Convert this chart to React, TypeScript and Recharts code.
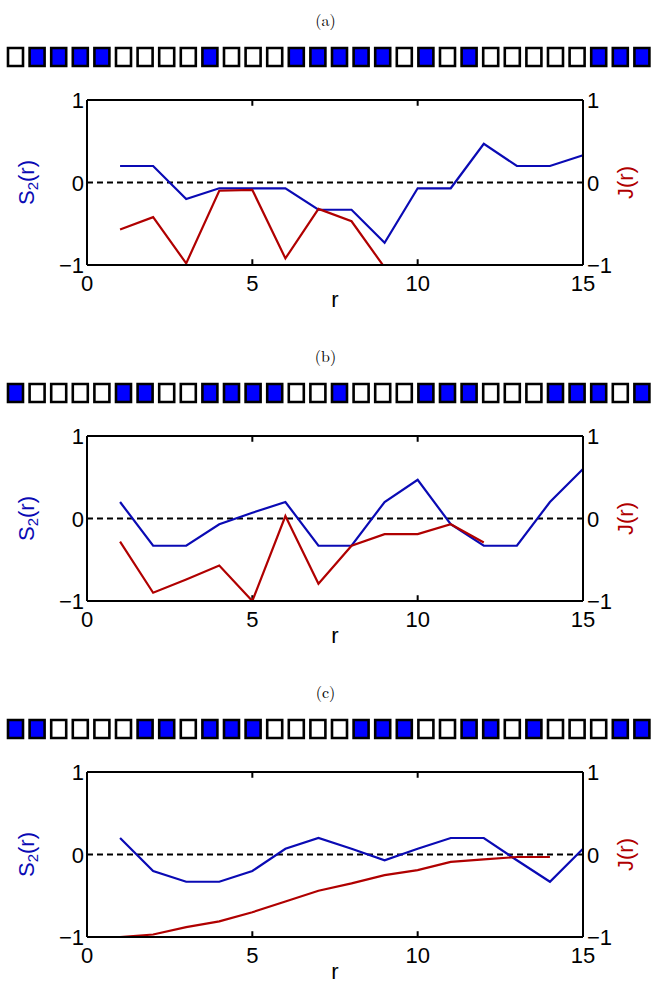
import React from "react";
import { LineChart, Line, XAxis, YAxis, ReferenceLine, Label, BarChart, Bar, Cell } from "recharts";

// distance r
const R = [1, 2, 3, 4, 5, 6, 7, 8, 9, 10, 11, 12, 13, 14, 15];

// S2(r) (blue, left axis) and J(r) (red, right axis) per panel
const S2_A = [0.2, 0.2, -0.2, -0.07, -0.07, -0.07, -0.33, -0.33, -0.73, -0.07, -0.07, 0.47, 0.2, 0.2, 0.33];
const J_A = [-0.57, -0.42, -0.98, -0.1, -0.09, -0.92, -0.32, -0.47, -1.03];
const S2_B = [0.2, -0.33, -0.33, -0.07, 0.07, 0.2, -0.33, -0.33, 0.2, 0.47, -0.07, -0.33, -0.33, 0.2, 0.6];
const J_B = [-0.28, -0.9, -0.74, -0.57, -1.0, 0.03, -0.79, -0.33, -0.19, -0.19, -0.07, -0.29];
const S2_C = [0.2, -0.2, -0.33, -0.33, -0.2, 0.07, 0.2, 0.07, -0.07, 0.07, 0.2, 0.2, -0.07, -0.33, 0.07];
const J_C = [-1.0, -0.97, -0.88, -0.81, -0.7, -0.57, -0.44, -0.35, -0.25, -0.19, -0.09, -0.06, -0.03, -0.03];

// occupied (1 = blue) / empty sites of each chain
const CHAIN_A = [0, 1, 1, 1, 1, 0, 0, 0, 0, 1, 0, 0, 0, 1, 1, 1, 1, 1, 0, 1, 0, 1, 0, 0, 0, 0, 0, 1, 1, 1];
const CHAIN_B = [1, 0, 0, 0, 0, 1, 1, 0, 0, 1, 1, 1, 1, 0, 0, 1, 0, 0, 0, 1, 1, 1, 0, 0, 0, 1, 1, 1, 0, 1];
const CHAIN_C = [1, 1, 0, 0, 0, 0, 1, 1, 0, 1, 1, 1, 0, 0, 0, 0, 1, 1, 1, 0, 0, 1, 1, 0, 1, 0, 0, 0, 1, 1];

const X_TICKS = [0, 5, 10, 15];
const INNER_TICKS = [5, 10];
const Y_TICKS = [-1, 0, 1];

const BLUE = "#0a0ab4";
const RED = "#b00000";
const SANS = "'Liberation Sans', Arial, Helvetica, sans-serif";

const T = 16; // plot top inside chart
const PH = 165; // plot height

function fmt(v: number) {
  return v < 0 ? "\u2212" + Math.abs(v) : String(v);
}

function Chain({ sites }: { sites: number[] }) {
  const data = sites.map((s, i) => ({ i, v: 1, s }));
  return (
    <BarChart width={651} height={24} data={data} margin={{ top: 3, right: -2, bottom: 3, left: 5 }}>
      <XAxis dataKey="i" hide />
      <YAxis domain={[0, 1]} hide />
      <Bar dataKey="v" barSize={15} isAnimationActive={false}>
        {data.map((d) => (
          <Cell key={d.i} fill={d.s ? "#0000ff" : "#ffffff"} stroke="#000" strokeWidth={2.6} />
        ))}
      </Bar>
    </BarChart>
  );
}

function Panel({ s2, j }: { s2: number[]; j: number[] }) {
  const data = R.map((r, i) => ({ r, s2: s2[i], j: i < j.length ? j[i] : null }));
  const bottom = T + PH;
  return (
    <LineChart width={651} height={230} data={data} margin={{ top: T, right: 38, bottom: 0, left: 57 }}>
      <XAxis
        xAxisId="b"
        dataKey="r"
        type="number"
        domain={[0, 15]}
        ticks={X_TICKS}
        height={49}
        tickSize={0}
        tickLine={false}
        axisLine={{ stroke: "#000", strokeWidth: 2 }}
        tick={(p: any) => (
          <text x={p.x} y={bottom + 26} textAnchor="middle" fontSize={22} fontFamily={SANS} fill="#000">
            {p.payload.value}
          </text>
        )}
      >
        <Label
          content={() => (
            <text x={335} y={bottom + 42} textAnchor="middle" fontSize={22} fontFamily={SANS} fill="#000">
              r
            </text>
          )}
        />
      </XAxis>
      <YAxis
        yAxisId="left"
        domain={[-1, 1]}
        ticks={Y_TICKS}
        allowDataOverflow
        width={30}
        tickSize={0}
        tickLine={false}
        axisLine={{ stroke: "#000", strokeWidth: 2 }}
        tick={(p: any) => (
          <text x={84} y={p.y + 8} textAnchor="end" fontSize={22} fontFamily={SANS} fill="#000">
            {fmt(p.payload.value)}
          </text>
        )}
      >
        <Label
          content={() => (
            <text
              x={26}
              y={T + PH / 2}
              transform={`rotate(-90, 26, ${T + PH / 2})`}
              textAnchor="middle"
              dominantBaseline="central"
              fontSize={22}
              fontFamily={SANS}
              fill={BLUE}
            >
              S<tspan dy={6} fontSize={15}>2</tspan>
              <tspan dy={-6}>(r)</tspan>
            </text>
          )}
        />
      </YAxis>
      <YAxis
        yAxisId="right"
        orientation="right"
        domain={[-1, 1]}
        ticks={Y_TICKS}
        allowDataOverflow
        width={30}
        tickSize={0}
        tickLine={false}
        axisLine={{ stroke: "#000", strokeWidth: 2 }}
        tick={(p: any) => (
          <text x={587} y={p.y + 8} textAnchor="start" fontSize={22} fontFamily={SANS} fill="#000">
            {fmt(p.payload.value)}
          </text>
        )}
      >
        <Label
          content={() => (
            <text
              x={625}
              y={T + PH / 2}
              transform={`rotate(-90, 625, ${T + PH / 2})`}
              textAnchor="middle"
              dominantBaseline="central"
              fontSize={22}
              fontFamily={SANS}
              fill={RED}
            >
              J(r)
            </text>
          )}
        />
      </YAxis>
      {/* box: top and right edges */}
      <ReferenceLine xAxisId="b" yAxisId="left" y={1} stroke="#000" strokeWidth={2} />
      <ReferenceLine xAxisId="b" yAxisId="left" x={15} stroke="#000" strokeWidth={2} />
      {/* inward x ticks on bottom and top edges */}
      {INNER_TICKS.map((t) => (
        <ReferenceLine
          key={"b" + t}
          xAxisId="b"
          yAxisId="left"
          segment={[{ x: t, y: -1 }, { x: t, y: -0.93 }]}
          stroke="#000"
          strokeWidth={2}
        />
      ))}
      {INNER_TICKS.map((t) => (
        <ReferenceLine
          key={"t" + t}
          xAxisId="b"
          yAxisId="left"
          segment={[{ x: t, y: 1 }, { x: t, y: 0.93 }]}
          stroke="#000"
          strokeWidth={2}
        />
      ))}
      <ReferenceLine xAxisId="b" yAxisId="left" y={0} stroke="#000" strokeWidth={2} strokeDasharray="6 4" />
      <Line xAxisId="b" yAxisId="left" dataKey="s2" stroke={BLUE} strokeWidth={2.2} dot={false} isAnimationActive={false} />
      <Line xAxisId="b" yAxisId="right" dataKey="j" stroke={RED} strokeWidth={2.2} dot={false} isAnimationActive={false} />
    </LineChart>
  );
}

const PANELS = [
  { title: "(a)", chain: CHAIN_A, s2: S2_A, j: J_A, off: 0 },
  { title: "(b)", chain: CHAIN_B, s2: S2_B, j: J_B, off: 336 },
  { title: "(c)", chain: CHAIN_C, s2: S2_C, j: J_C, off: 672 },
];

export default function App() {
  return (
    <div style={{ position: "absolute", left: 0, top: 0, width: 651, height: 986, background: "#fff", overflow: "hidden" }}>
      {PANELS.map((p) => (
        <React.Fragment key={p.title}>
          <div
            style={{
              position: "absolute",
              top: p.off + 10,
              left: 0,
              width: 651,
              textAlign: "center",
              fontFamily: "'Latin Modern Roman', 'DejaVu Serif', serif",
              fontSize: 16,
              lineHeight: "20px",
            }}
          >
            {p.title}
          </div>
          <div style={{ position: "absolute", top: p.off + 45, left: 0 }}>
            <Chain sites={p.chain} />
          </div>
          <div style={{ position: "absolute", top: p.off + 84, left: 0 }}>
            <Panel s2={p.s2} j={p.j} />
          </div>
        </React.Fragment>
      ))}
    </div>
  );
}
